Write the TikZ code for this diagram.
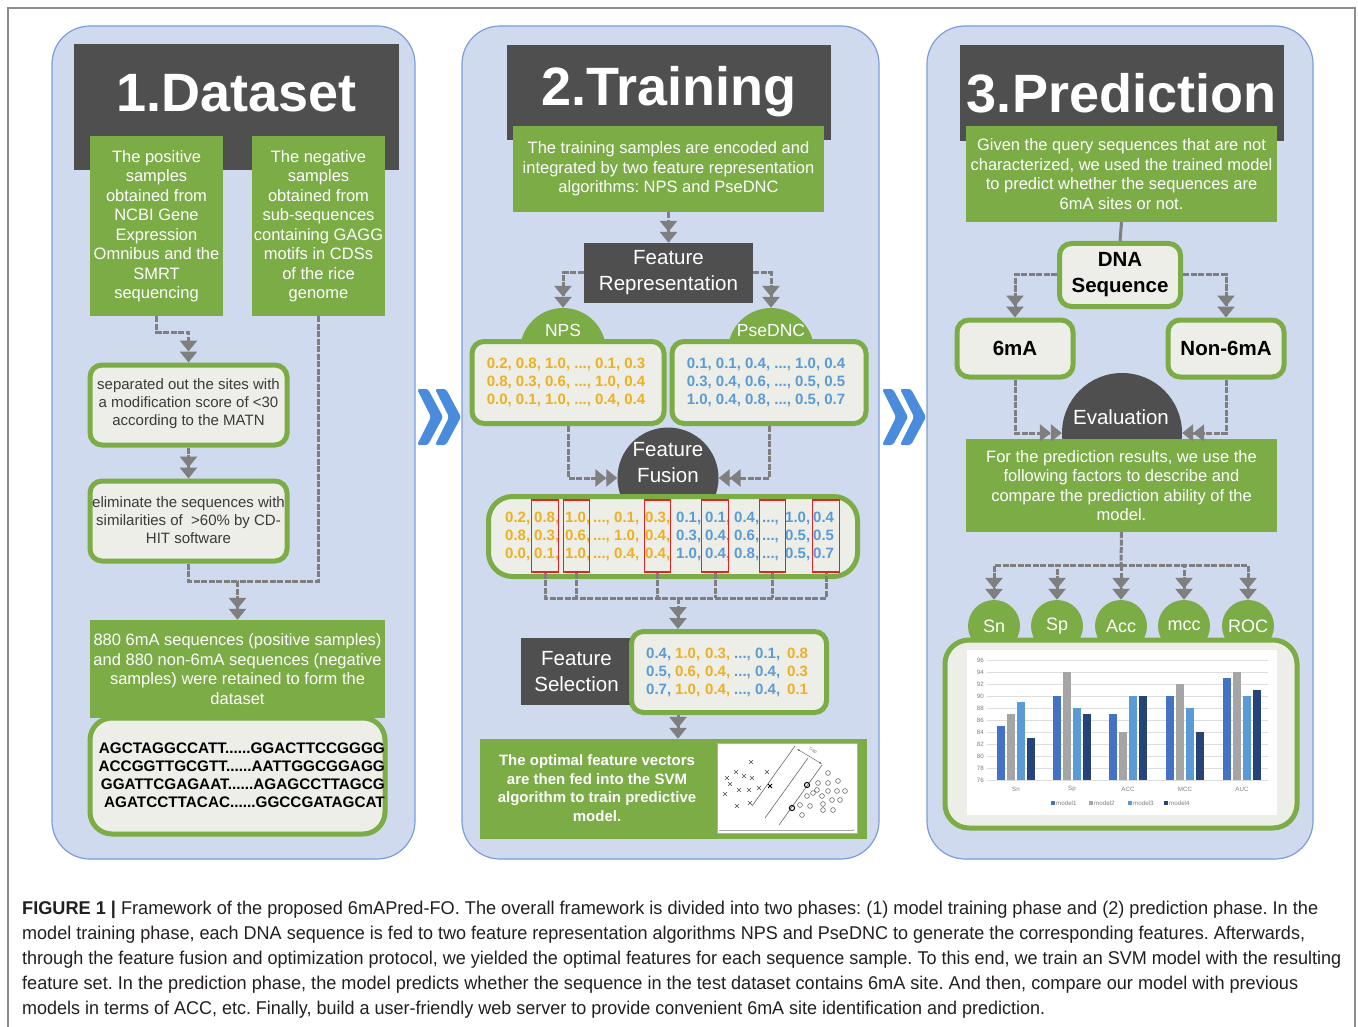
\documentclass[tikz,border=0pt]{standalone}
\usepackage{fontspec}
\usepackage{graphicx}
\setmainfont{Liberation Sans}
\usetikzlibrary{arrows.meta,positioning}
\frenchspacing

\definecolor{panelfill}{HTML}{CFDAEE}
\definecolor{panelline}{HTML}{7B9ED8}
\definecolor{darkbar}{HTML}{4F4F4F}
\definecolor{boxgreen}{HTML}{7BAC46}
\definecolor{boxlight}{HTML}{EEEEE8}
\definecolor{flowgray}{HTML}{7F7F7F}
\definecolor{textgray}{HTML}{3A3A3A}
\definecolor{numorange}{HTML}{EDB021}
\definecolor{numblue}{HTML}{5B9BD5}
\definecolor{chevblue}{HTML}{4A8CDB}
\definecolor{pickred}{HTML}{E02424}
\definecolor{mone}{HTML}{4472C4}
\definecolor{mtwo}{HTML}{A5A5A5}
\definecolor{mthree}{HTML}{5B9BD5}
\definecolor{mfour}{HTML}{264478}
\definecolor{gridgray}{HTML}{DDDDDD}
\definecolor{framegray}{HTML}{8C8C8C}
\definecolor{captext}{HTML}{231F20}

\begin{document}
\begin{tikzpicture}[x=1pt, y=-1pt,
    panel/.style={draw=panelline, line width=1.2pt, fill=panelfill, rounded corners=38pt},
    bar/.style={fill=darkbar, inner sep=0pt},
    bigtitle/.style={text=white, inner sep=0pt, font=\bfseries\fontsize{54}{60}\selectfont},
    greenbox/.style={fill=boxgreen, text=white, align=center, inner sep=0pt, font=\fontsize{16.5}{19.5}\selectfont},
    lightbox/.style={draw=boxgreen, line width=5pt, fill=boxlight, rounded corners=12pt, inner sep=0pt},
    graytext/.style={text=textgray, align=center, inner sep=0pt, font=\fontsize{15}{18}\selectfont},
    darkbox/.style={fill=darkbar, text=white, align=center, inner sep=0pt, font=\fontsize{20.5}{26}\selectfont},
    dome/.style={circle, inner sep=0pt},
    domelabel/.style={text=white, inner sep=0pt, font=\fontsize{17.5}{20}\selectfont},
    metric/.style={circle, fill=boxgreen, text=white, inner sep=0pt, minimum size=52, font=\fontsize{18}{20}\selectfont},
    flow/.style={draw=flowgray, line width=3pt, dash pattern=on 6pt off 1.5pt},
    flowarrow/.style={flow, -{Triangle[length=11pt,width=17pt] Triangle[length=11pt,width=17pt]}},
    num/.style={anchor=base west, inner sep=0pt, font=\bfseries\fontsize{15}{18}\selectfont},
    pick/.style={draw=pickred, line width=1.2pt, minimum width=26.5, minimum height=72, inner sep=0pt},
    axislabel/.style={text=flowgray, inner sep=0pt, font=\fontsize{6.2}{7}\selectfont},
    caption/.style={anchor=base west, inner sep=0pt, text=captext, font=\fontsize{18.5}{20}\selectfont}]

    \useasboundingbox[fill=white] (0,0) rectangle (1358,1027);
    \draw[framegray, line width=1.2pt] (8,1027) -- (8,8) -- (1355,8) -- (1355,1027);

    % panels
    \draw[panel] (52,26) rectangle (415,859);
    \draw[panel] (462,26) rectangle (879,859);
    \draw[panel] (927,26) rectangle (1313,859);

    % chevrons between the panels
    \foreach \cx in {417,435,882,900}
        \fill[chevblue, rounded corners=2.5pt] (\cx,389) -- (\cx+11,389) -- (\cx+26,417)
            -- (\cx+11,445) -- (\cx,445) -- (\cx+14,417) -- cycle;

    %%% 1.Dataset
    \node[bar, minimum width=325, minimum height=126] (dsbar) at (236.5,107.5) {};
    \node[bigtitle] (dstitle) at (236.5,93) {1.Dataset};
    \node[greenbox, minimum width=133, minimum height=180] (pos) at (156.5,226)
        {The positive\\samples\\obtained from\\NCBI Gene\\Expression\\Omnibus and the\\SMRT\\sequencing};
    \node[greenbox, minimum width=133, minimum height=180] (neg) at (318.5,226)
        {The negative\\samples\\obtained from\\sub-sequences\\containing GAGG\\motifs in CDSs\\of the rice\\genome};
    \node[lightbox, minimum width=197, minimum height=80] (sep) at (188.5,405) {};
    \node[graytext] (septext) at (188.5,404)
        {separated out the sites with\\a modification score of <30\\according to the MATN};
    \node[lightbox, minimum width=197, minimum height=80] (elim) at (188.5,521) {};
    \node[graytext] (elimtext) at (188.5,520)
        {eliminate the sequences with\\similarities of \ >60\% by CD-\\HIT software};
    \node[greenbox, minimum width=295, minimum height=98] (final) at (237.5,669)
        {880 6mA sequences (positive samples)\\and 880 non-6mA sequences (negative\\samples) were retained to form the\\dataset};
    \node[lightbox, minimum width=295, minimum height=116, rounded corners=22pt] (seqs) at (237.5,776) {};
    \node[anchor=east, align=right, inner sep=0pt, font=\bfseries\fontsize{15.3}{18}\selectfont] (seqtext) at (385,775)
        {AGCTAGGCCATT......GGACTTCCGGGG\\ACCGGTTGCGTT......AATTGGCGGAGG\\GGATTCGAGAAT......AGAGCCTTAGCG\\AGATCCTTACAC......GGCCGATAGCAT};
    \coordinate (dsjoin) at (237.5,581);

    \draw[flowarrow] (pos.south) -- ++(0,16) -| (sep.north);
    \draw[flowarrow] (sep.south) -- (elim.north);
    \draw[flow] (neg.south) |- (dsjoin);
    \draw[flow] (elim.south) |- (dsjoin);
    \draw[flowarrow] (dsjoin) -- (final.north);

    %%% 2.Training
    \node[bar, minimum width=324, minimum height=95] (trbar) at (669,92.5) {};
    \node[bigtitle] (trtitle) at (669,92) {2.Training};
    \node[greenbox, minimum width=311, minimum height=86] (intro) at (668.5,169)
        {The training samples are encoded and\\integrated by two feature representation\\algorithms: NPS and PseDNC};
    \node[darkbox, minimum width=169, minimum height=60] (rep) at (668.5,273) {Feature\\Representation};
    \node[dome, fill=boxgreen, minimum size=86] (nps) at (563,351) {};
    \node[dome, fill=boxgreen, minimum size=86] (pse) at (771,351) {};
    \node[lightbox, minimum width=192, minimum height=82] (npsbox) at (568,382.5) {};
    \node[lightbox, minimum width=194, minimum height=82] (psebox) at (769,382.5) {};
    \node[domelabel] (npslabel) at (563,330) {NPS};
    \node[domelabel] (pselabel) at (771,330) {PseDNC};
    \node[text=numorange, align=center, inner sep=0pt, font=\bfseries\fontsize{15}{18}\selectfont] (npsnum) at (566,382)
        {0.2, 0.8, 1.0, ..., 0.1, 0.3\\0.8, 0.3, 0.6, ..., 1.0, 0.4\\0.0, 0.1, 1.0, ..., 0.4, 0.4};
    \node[text=numblue, align=center, inner sep=0pt, font=\bfseries\fontsize{15}{18}\selectfont] (psenum) at (766,382)
        {0.1, 0.1, 0.4, ..., 1.0, 0.4\\0.3, 0.4, 0.6, ..., 0.5, 0.5\\1.0, 0.4, 0.8, ..., 0.5, 0.7};

    \node[dome, fill=darkbar, minimum size=101] (fusion) at (668,478) {};
    \node[text=white, align=center, inner sep=0pt, font=\fontsize{20.5}{26}\selectfont] (fusionlabel) at (668,463) {Feature\\Fusion};
    \node[lightbox, minimum width=369, minimum height=80, rounded corners=24pt] (fusebox) at (673,536.5) {};
    \foreach \xs/\ra/\rb/\rc/\col [count=\i] in {
        505/{0.2,}/{0.8,}/{0.0,}/numorange, 534/{0.8,}/{0.3,}/{0.1,}/numorange,
        565/{1.0,}/{0.6,}/{1.0,}/numorange, 593/{...,}/{...,}/{...,}/numorange,
        614/{0.1,}/{1.0,}/{0.4,}/numorange, 645/{0.3,}/{0.4,}/{0.4,}/numorange,
        676/{0.1,}/{0.3,}/{1.0,}/numblue, 705/{0.1,}/{0.4,}/{0.4,}/numblue,
        734/{0.4,}/{0.6,}/{0.8,}/numblue, 762/{...,}/{...,}/{...,}/numblue,
        785/{1.0,}/{0.5,}/{0.5,}/numblue, 813/{0.4}/{0.5}/{0.7}/numblue} {
        \node[num, text=\col] (fa\i) at (\xs,522.4) {\ra};
        \node[num, text=\col] (fb\i) at (\xs,540.4) {\rb};
        \node[num, text=\col] (fc\i) at (\xs,558.4) {\rc};
    }
    \foreach \px [count=\i] in {545,576.5,657.5,715,772.5,826}
        \node[pick] (sel\i) at (\px,536) {};
    \coordinate (bus) at (678,598);

    \node[darkbox, minimum width=111, minimum height=67] (selname) at (576.5,671.5) {Feature\\Selection};
    \node[lightbox, minimum width=195, minimum height=81] (selbox) at (729,672) {};
    \foreach \xs/\ra/\rb/\rc/\col [count=\i] in {
        646/{0.4,}/{0.5,}/{0.7,}/numblue, 675/{1.0,}/{0.6,}/{1.0,}/numorange,
        705/{0.3,}/{0.4,}/{0.4,}/numorange, 734/{...,}/{...,}/{...,}/numblue,
        755/{0.1,}/{0.4,}/{0.4,}/numblue, 787/{0.8}/{0.3}/{0.1}/numorange} {
        \node[num, text=\col] (sa\i) at (\xs,658.4) {\ra};
        \node[num, text=\col] (sb\i) at (\xs,676.4) {\rb};
        \node[num, text=\col] (sc\i) at (\xs,694.4) {\rc};
    }

    \node[greenbox, minimum width=387, minimum height=100] (svm) at (673.5,789) {};
    \node[text=white, align=center, inner sep=0pt, font=\bfseries\fontsize{15}{18.5}\selectfont] (svmtext) at (597,788)
        {The optimal feature vectors\\are then fed into the SVM\\algorithm to train predictive\\model.};
    \node[draw=gray!60, fill=white, minimum width=140, minimum height=90, inner sep=0pt] (svmplot) at (787,788) {};
    \draw[gray!70, line width=0.5pt, -{Latex[length=2pt]}] (719,830) -- (855,830);
    \draw[gray!80!black, line width=0.6pt] (752,806) -- (795,746) (765,818) -- (808,758) (779,825) -- (822,765);
    \draw[gray!80!black, line width=0.5pt, {Latex[length=2.5pt]}-{Latex[length=2.5pt]}] (797,749) -- (822,764);
    \node[rotate=-30, inner sep=0pt, text=gray, font=\fontsize{4.5}{5}\selectfont] (gaplabel) at (813,751) {Gap};
    \foreach \x/\y in {751/762,736/772,744/776,752/778,767/772,727/778,730/784,739/790,
        749/790,759/788,725/794,750/803,737/806}
        \draw[black!70, line width=0.5pt] (\x-2,\y-2) -- (\x+2,\y+2) (\x-2,\y+2) -- (\x+2,\y-2);
    \draw[black, line width=1pt] (768,784) -- (772,788) (768,788) -- (772,784);
    \foreach \x/\y in {828/773,818/783,828/783,838/781,817/790,828/791,837/791,845/791,
        807/796,813/793,822/796,832/800,840/800,800/805,810/806,823/804,823/810,833/810,802/815}
        \draw[black!70, line width=0.5pt] (\x,\y) circle[radius=2.4pt];
    \draw[black, line width=1pt] (807,785) circle[radius=2.6pt] (792,808) circle[radius=2.6pt];

    \draw[flowarrow] (intro.south) -- (rep.north);
    \draw[flowarrow] (rep.west) -| (nps.north);
    \draw[flowarrow] (rep.east) -| (pse.north);
    \draw[flowarrow] (npsbox.south) |- (fusion.west);
    \draw[flowarrow] (psebox.south) |- (fusion.east);
    \draw[flow] (sel1.south) |- (bus) -| (sel6.south);
    \foreach \i in {2,...,5}
        \draw[flow] (sel\i.south) -- (sel\i.south |- bus);
    \draw[flowarrow] (bus) -- (bus |- selbox.north);
    \draw[flowarrow] (bus |- selbox.south) -- (bus |- svm.north);

    %%% 3.Prediction
    \node[bar, minimum width=324, minimum height=96] (prbar) at (1121.5,93.5) {};
    \node[bigtitle] (prtitle) at (1121.5,93) {3.Prediction};
    \node[greenbox, minimum width=311, minimum height=96] (query) at (1121.5,174)
        {Given the query sequences that are not\\characterized, we used the trained model\\to predict whether the sequences are\\6mA sites or not.};
    \node[lightbox, minimum width=121, minimum height=63, align=center, font=\bfseries\fontsize{20.5}{26}\selectfont] (dna) at (1120,275) {DNA\\Sequence};
    \node[lightbox, minimum width=116, minimum height=57, font=\bfseries\fontsize{20.5}{24}\selectfont] (sixma) at (1015,348.5) {6mA};
    \node[lightbox, minimum width=116, minimum height=57, font=\bfseries\fontsize{20.5}{24}\selectfont] (nonsix) at (1226,348.5) {Non-6mA};
    \node[dome, fill=darkbar, minimum size=120] (evaluation) at (1122,433) {};
    \node[text=white, inner sep=0pt, font=\fontsize{20.5}{24}\selectfont] (evallabel) at (1121,417) {Evaluation};
    \node[greenbox, minimum width=311, minimum height=93] (result) at (1121.5,485.5)
        {For the prediction results, we use the\\following factors to describe and\\compare the prediction ability of the\\model.};
    \coordinate (hub) at (1121,565);
    \node[metric] (sn) at (994,626) {Sn};
    \node[metric] (sp) at (1057,626) {Sp};
    \node[metric] (acc) at (1121,626) {Acc};
    \node[metric] (mcc) at (1184,626) {mcc};
    \node[metric] (roc) at (1248,626) {ROC};
    \node[lightbox, minimum width=352, minimum height=188, rounded corners=24pt] (chart) at (1121,734) {};
    \node[fill=white, minimum width=310, minimum height=165, inner sep=0pt] (chartarea) at (1122,732.5) {};

    % bar chart
    \foreach \v in {76,78,...,96} {
        \draw[gridgray, line width=0.6pt] (987,{780-(\v-76)*6}) -- (1268,{780-(\v-76)*6});
        \node[axislabel, anchor=east] (yl\v) at (984,{780-(\v-76)*6}) {\v};
    }
    \foreach \gx/\a/\b/\c/\d/\lab in {1016/85/87/89/83/Sn, 1072/90/94/88/87/Sp,
        1128/87/84/90/90/ACC, 1185/90/92/88/84/MCC, 1242/93/94/90/91/AUC} {
        \fill[mone] (\gx-19,780) rectangle ++(7.5,{-(\a-76)*6});
        \fill[mtwo] (\gx-9,780) rectangle ++(7.5,{-(\b-76)*6});
        \fill[mthree] (\gx+1,780) rectangle ++(7.5,{-(\c-76)*6});
        \fill[mfour] (\gx+11,780) rectangle ++(7.5,{-(\d-76)*6});
        \node[axislabel] (cat\lab) at (\gx,789) {\lab};
    }
    \foreach \lx/\col/\lab in {1051/mone/model1, 1089/mtwo/model2, 1128/mthree/model3, 1164/mfour/model4} {
        \fill[\col] (\lx,801) rectangle ++(4,4);
        \node[axislabel, anchor=west] (leg\lab) at (\lx+5,803) {\lab};
    }

    \draw[draw=flowgray, line width=3pt] (query.south) -- (dna.north);
    \draw[flowarrow] (dna.west) -| (sixma.north);
    \draw[flowarrow] (dna.east) -| (nonsix.north);
    \draw[flowarrow] (sixma.south) |- (evaluation.west);
    \draw[flowarrow] (nonsix.south) |- (evaluation.east);
    \draw[flow] (result.south) -- (hub);
    \foreach \m in {sn,sp,acc,mcc,roc}
        \draw[flowarrow] (hub) -| (\m.north);

    %%% caption
    \node[caption] (cap1) at (22,914) {\resizebox{1296pt}{\height}{\textbf{FIGURE 1 |} Framework of the proposed 6mAPred-FO. The overall framework is divided into two phases: (1) model training phase and (2) prediction phase. In the}};
    \node[caption] (cap2) at (22,939) {\resizebox{1283pt}{\height}{model training phase, each DNA sequence is fed to two feature representation algorithms NPS and PseDNC to generate the corresponding features. Afterwards,}};
    \node[caption] (cap3) at (22,964) {\resizebox{1319pt}{\height}{through the feature fusion and optimization protocol, we yielded the optimal features for each sequence sample. To this end, we train an SVM model with the resulting}};
    \node[caption] (cap4) at (22,989) {\resizebox{1276pt}{\height}{feature set. In the prediction phase, the model predicts whether the sequence in the test dataset contains 6mA site. And then, compare our model with previous}};
    \node[caption] (cap5) at (22,1014) {\resizebox{1023pt}{\height}{models in terms of ACC, etc. Finally, build a user-friendly web server to provide convenient 6mA site identification and prediction.}};
\end{tikzpicture}
\end{document}
